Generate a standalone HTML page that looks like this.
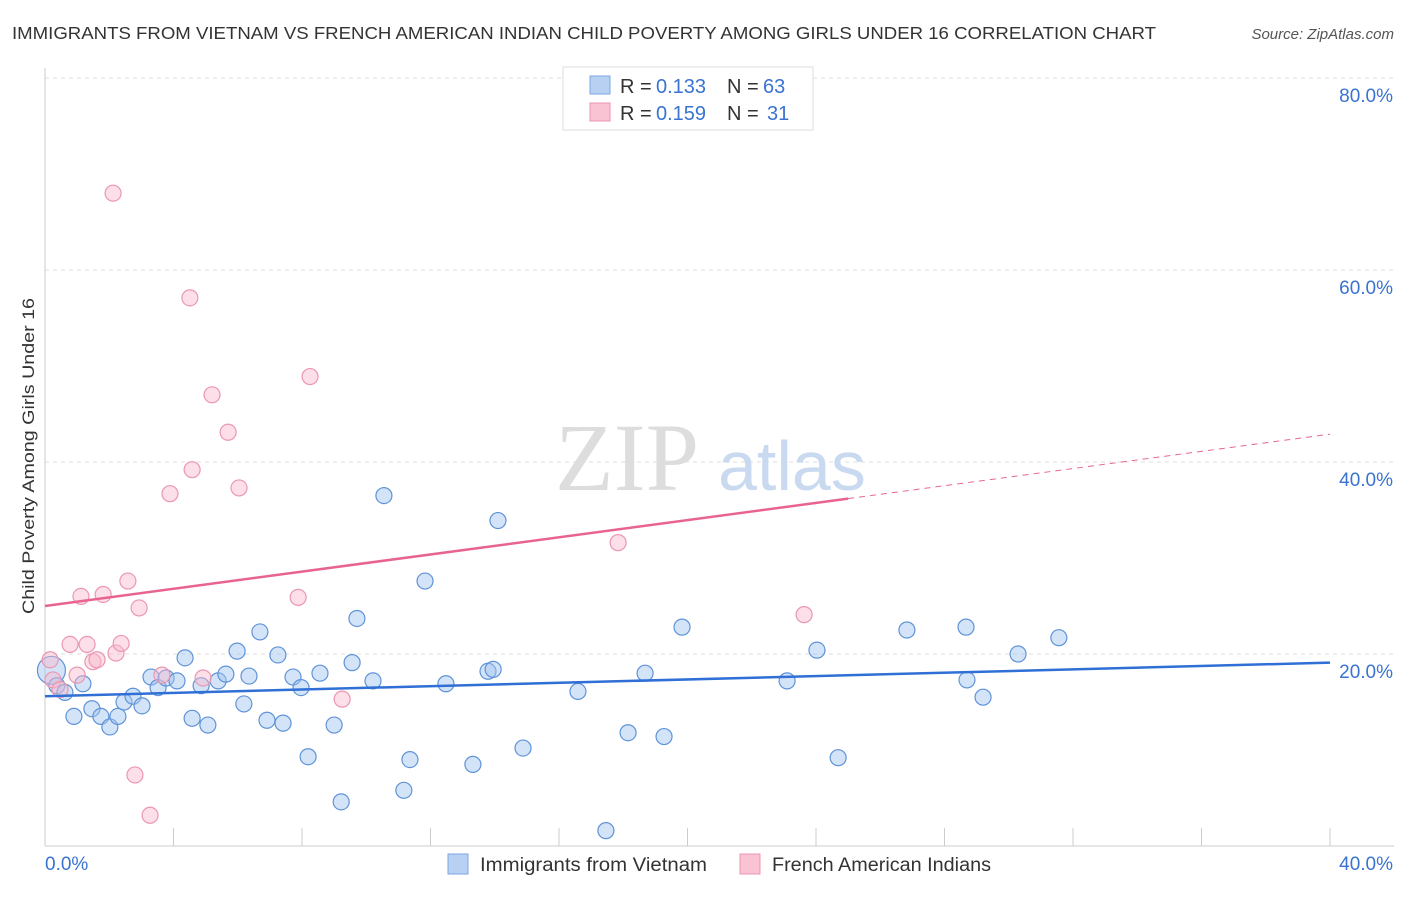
<!DOCTYPE html>
<html><head><meta charset="utf-8"><style>
body{margin:0;background:#fff;font-family:"Liberation Sans",sans-serif;}
</style></head><body>
<svg width="1406" height="892" xmlns="http://www.w3.org/2000/svg">
<text x="12" y="39" font-size="17.5" fill="#333" textLength="1144" lengthAdjust="spacingAndGlyphs">IMMIGRANTS FROM VIETNAM VS FRENCH AMERICAN INDIAN CHILD POVERTY AMONG GIRLS UNDER 16 CORRELATION CHART</text>
<text x="1394" y="39" font-size="15" fill="#555" font-style="italic" text-anchor="end">Source: ZipAtlas.com</text>
<g id="grid"></g>
<text x="555" y="490" font-size="96" fill="#ddd" font-family="Liberation Serif">ZIP</text>
<text x="718" y="490" font-size="70" fill="#c9daf0">atlas</text>
<text x="34" y="456" font-size="17" fill="#333" transform="rotate(-90 34 456)" text-anchor="middle" textLength="316" lengthAdjust="spacingAndGlyphs">Child Poverty Among Girls Under 16</text>
<g id="marks"></g>
<g>
<rect x="563" y="67" width="250" height="63" fill="#fff" stroke="#ddd"/>
<rect x="590" y="76" width="20" height="18" fill="#b8d1f3" stroke="#7aa6e0"/>
<rect x="590" y="103" width="20" height="18" fill="#f9c3d3" stroke="#ec95b0"/>
<text x="620" y="93" font-size="20" fill="#333">R =</text><text x="656" y="93" font-size="20" fill="#3a73d1">0.133</text>
<text x="727" y="93" font-size="20" fill="#333">N =</text><text x="763" y="93" font-size="20" fill="#3a73d1">63</text>
<text x="620" y="120" font-size="20" fill="#333">R =</text><text x="656" y="120" font-size="20" fill="#3a73d1">0.159</text>
<text x="727" y="120" font-size="20" fill="#333">N =</text><text x="767" y="120" font-size="20" fill="#3a73d1">31</text>
</g>
<g>
<rect x="448" y="854" width="20" height="20" fill="#b8d1f3" stroke="#7aa6e0"/>
<text x="480" y="871" font-size="19" fill="#333" textLength="227" lengthAdjust="spacingAndGlyphs">Immigrants from Vietnam</text>
<rect x="740" y="854" width="20" height="20" fill="#f9c3d3" stroke="#ec95b0"/>
<text x="772" y="871" font-size="19" fill="#333" textLength="219" lengthAdjust="spacingAndGlyphs">French American Indians</text>
</g>
</svg>
<script>
const yTicks=[20,40,60,80];
const blueX=[0.2,0.37,0.62,1.18,0.9,1.46,1.74,2.02,2.27,2.46,2.74,3.02,3.3,3.52,3.77,4.11,4.36,4.58,4.86,5.07,5.39,5.63,5.98,6.19,6.35,6.69,6.91,7.25,7.41,7.72,7.97,8.19,8.56,9.0,9.22,9.56,9.71,10.21,10.55,11.17,11.36,11.83,12.48,13.32,13.79,13.95,14.1,14.88,16.59,17.46,18.15,18.68,19.27,19.83,23.1,24.03,24.69,26.83,28.67,28.7,29.2,30.29,31.56];
const blueY=[18.3,16.7,16.0,16.9,13.5,14.3,13.5,12.4,13.5,15.0,15.6,14.6,17.6,16.5,17.5,17.2,19.6,13.3,16.7,12.6,17.2,17.9,20.3,14.8,17.7,22.3,13.1,19.9,12.8,17.6,16.5,9.3,18.0,12.6,4.6,19.1,23.7,17.2,36.5,5.8,9.0,27.6,16.9,8.5,18.2,18.4,33.9,10.2,16.1,1.6,11.8,18.0,11.4,22.8,17.2,20.4,9.2,22.5,22.8,17.3,15.5,20.0,21.7];
const pinkX=[0.16,0.25,0.47,0.78,1.0,1.12,1.31,1.49,1.62,1.81,2.21,2.12,2.37,2.58,2.8,2.93,3.27,3.64,3.89,4.51,4.58,4.92,5.2,5.7,6.04,7.88,8.25,9.25,17.84,23.63];
const pinkY=[19.4,17.3,16.3,21.0,17.8,26.0,21.0,19.2,19.4,26.2,20.1,68.0,21.1,27.6,7.4,24.8,3.2,17.8,36.7,57.1,39.2,17.5,47.0,43.1,37.3,25.9,48.9,15.3,31.6,24.1];
const blueTrend=[15.6,19.1], pinkTrend=[25.0,42.9];
const X=v=>45+v*32.125, Y=v=>846-v*9.6;
const NS="http://www.w3.org/2000/svg";
const g=document.getElementById('grid'), m=document.getElementById('marks');
function el(t,a,p){const e=document.createElementNS(NS,t);for(const k in a)e.setAttribute(k,a[k]);p.appendChild(e);return e;}
yTicks.forEach(v=>{
 const l=el('line',{x1:45,x2:1394,y1:Y(v),y2:Y(v),stroke:'#ddd','stroke-dasharray':'4 4'},g);
 
 
 const t=el('text',{x:1393,y:Y(v)+24,'font-size':19,fill:'#3a73d1','text-anchor':'end'},g);t.textContent=v.toFixed(1)+'%';
 
 
});
el('line',{x1:45,x2:45,y1:68,y2:846,stroke:'#ccc'},g);
el('line',{x1:45,x2:1394,y1:846,y2:846,stroke:'#ccc'},g);
for(let i=0;i<=10;i++){el('line',{x1:X(i*4),x2:X(i*4),y1:828,y2:846,stroke:'#ccc'},g);}
let t0=el('text',{x:45,y:870,'font-size':19,fill:'#3a73d1'},g);t0.textContent='0.0%';

let t1=el('text',{x:1393,y:870,'font-size':19,fill:'#3a73d1','text-anchor':'end'},g);t1.textContent='40.0%';

blueX.forEach((x,i)=>{const c=el('circle',{cx:X(x),cy:Y(blueY[i]),r:i==0?14:8,fill:'rgba(160,195,240,0.45)',stroke:'#5f93d8','stroke-width':1.2},m);
 
 });
pinkX.forEach((x,i)=>{const c=el('circle',{cx:X(x),cy:Y(pinkY[i]),r:8,fill:'rgba(248,185,205,0.45)',stroke:'#eb97b1','stroke-width':1.2},m);
 
 });
const bl=el('line',{x1:X(0),y1:Y(blueTrend[0]),x2:X(40),y2:Y(blueTrend[1]),stroke:'#2f6fd6','stroke-width':2.5},m);

const pm=pinkTrend[0]+(pinkTrend[1]-pinkTrend[0])*25/40;
const pl=el('line',{x1:X(0),y1:Y(pinkTrend[0]),x2:X(25),y2:Y(pm),stroke:'#e8648f','stroke-width':2.5},m);

const pd=el('line',{x1:X(25),y1:Y(pm),x2:X(40),y2:Y(pinkTrend[1]),stroke:'#e8648f','stroke-width':1,'stroke-dasharray':'6 5'},m);

</script>
</body></html>
